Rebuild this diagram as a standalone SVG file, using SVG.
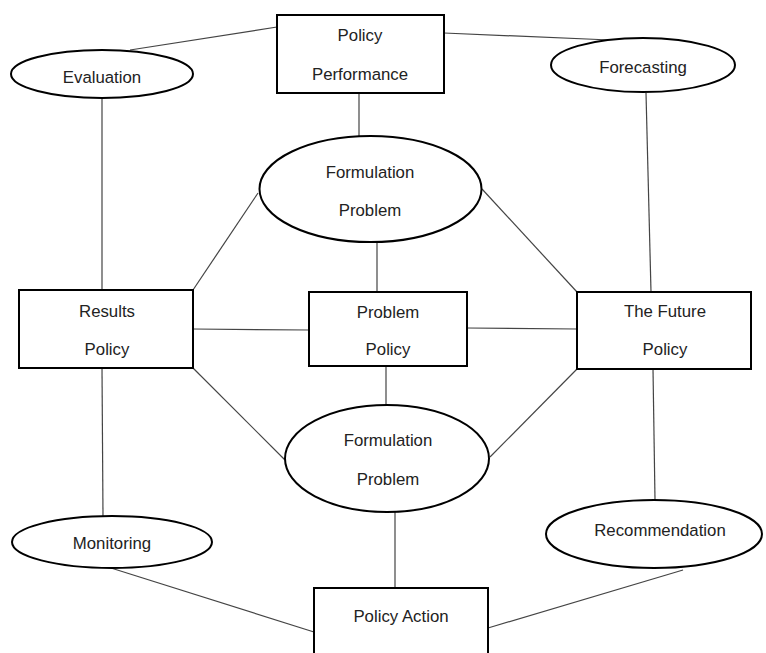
<svg xmlns="http://www.w3.org/2000/svg" width="766" height="653" viewBox="0 0 766 653">
<style>
.n{fill:#fff;stroke:#000;stroke-width:2}
.c line{stroke:#444;stroke-width:1.2}
text{font-family:"Liberation Sans","Open Sans",sans-serif;font-size:16.8px;fill:#222;text-anchor:middle}
</style>
<rect width="766" height="653" fill="#fff"/>
<g class="c" id="connectors">
<line x1="277" y1="27" x2="130" y2="50"/>
<line x1="444" y1="33" x2="610" y2="40"/>
<line x1="359" y1="93" x2="359" y2="136"/>
<line x1="102" y1="98" x2="102" y2="290"/>
<line x1="646" y1="93" x2="651" y2="292"/>
<line x1="193" y1="290" x2="258" y2="193"/>
<line x1="482" y1="189" x2="577" y2="292"/>
<line x1="377" y1="242" x2="377" y2="292"/>
<line x1="193" y1="329" x2="309" y2="330"/>
<line x1="467" y1="328" x2="577" y2="329"/>
<line x1="193" y1="368" x2="285" y2="460"/>
<line x1="577" y1="369" x2="490" y2="457"/>
<line x1="386" y1="366" x2="386" y2="405"/>
<line x1="102" y1="368" x2="103" y2="516"/>
<line x1="653" y1="369" x2="655" y2="500"/>
<line x1="395" y1="512" x2="395" y2="588"/>
<line x1="111" y1="568" x2="314" y2="632"/>
<line x1="683" y1="570" x2="488" y2="628"/>
</g>
<g id="policy-performance">
<rect class="n" x="277" y="15" width="167" height="78"/>
<text x="360" y="41">Policy</text>
<text x="360" y="80">Performance</text>
</g>
<g id="evaluation">
<ellipse class="n" cx="102" cy="74" rx="91" ry="24"/>
<text x="102" y="83">Evaluation</text>
</g>
<g id="forecasting">
<ellipse class="n" cx="643" cy="65" rx="92" ry="27"/>
<text x="643" y="73">Forecasting</text>
</g>
<g id="formulation-top">
<ellipse class="n" cx="370.5" cy="189" rx="111" ry="53"/>
<text x="370" y="178">Formulation</text>
<text x="370" y="216">Problem</text>
</g>
<g id="results-policy">
<rect class="n" x="19" y="290" width="174" height="78"/>
<text x="107" y="317">Results</text>
<text x="107" y="355">Policy</text>
</g>
<g id="problem-policy">
<rect class="n" x="309" y="292" width="158" height="74"/>
<text x="388" y="318">Problem</text>
<text x="388" y="355">Policy</text>
</g>
<g id="future-policy">
<rect class="n" x="577" y="292" width="174" height="77"/>
<text x="665" y="317">The Future</text>
<text x="665" y="355">Policy</text>
</g>
<g id="formulation-bottom">
<ellipse class="n" cx="387" cy="458.5" rx="102" ry="53.5"/>
<text x="388" y="446">Formulation</text>
<text x="388" y="485">Problem</text>
</g>
<g id="monitoring">
<ellipse class="n" cx="112" cy="542" rx="100" ry="26"/>
<text x="112" y="549">Monitoring</text>
</g>
<g id="recommendation">
<ellipse class="n" cx="654" cy="534" rx="108" ry="34"/>
<text x="660" y="536">Recommendation</text>
</g>
<g id="policy-action">
<rect class="n" x="314" y="588" width="174" height="75"/>
<text x="401" y="622">Policy Action</text>
</g>
</svg>
